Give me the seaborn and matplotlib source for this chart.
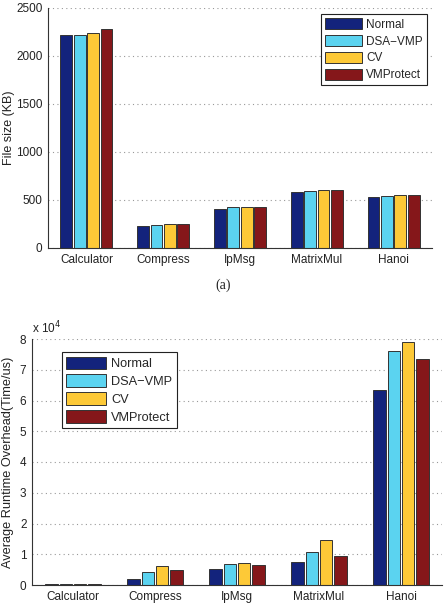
import numpy as np
import pandas as pd
import matplotlib
matplotlib.use("Agg")
import matplotlib.pyplot as plt
import seaborn as sns
from matplotlib.ticker import FuncFormatter

programs = ["Calculator", "Compress", "IpMsg", "MatrixMul", "Hanoi"]
methods = ["Normal", "DSA\u2212VMP", "CV", "VMProtect"]

# file size (KB), one list per method
size_normal = [2215, 230, 405, 582, 535]
size_dsa = [2215, 240, 425, 590, 545]
size_cv = [2235, 248, 432, 600, 555]
size_vmp = [2285, 250, 432, 602, 557]

# average runtime overhead (Time/us)
rt_normal = [300, 1900, 5200, 7600, 63500]
rt_dsa = [300, 4100, 6700, 10600, 76100]
rt_cv = [300, 6100, 7000, 14500, 78900]
rt_vmp = [300, 4800, 6400, 9500, 73600]

colors = ["#13237c", "#5bd3f0", "#fdc937", "#85171a"]


def long_df(series):
    rows = []
    for m, vals in zip(methods, series):
        for p, v in zip(programs, vals):
            rows.append({"program": p, "method": m, "value": v})
    return pd.DataFrame(rows)


sns.set_style("white")
plt.rcParams["font.family"] = ["Liberation Sans", "DejaVu Sans"]
txt = "#222222"

fig = plt.figure(figsize=(4.46, 6.14), dpi=100)
ax1 = fig.add_axes([48 / 446, 1 - 248 / 614, 384 / 446, 240 / 614])
ax2 = fig.add_axes([32 / 446, 1 - 585 / 614, 410 / 446, 246 / 614])


def style_ax(ax):
    for s in ["top", "right"]:
        ax.spines[s].set_visible(False)
    for s in ["left", "bottom"]:
        ax.spines[s].set_color("#333333")
        ax.spines[s].set_linewidth(0.8)
    ax.set_xlim(-0.5, 4.5)
    ax.set_xlabel("")
    ax.tick_params(direction="in", length=3, width=0.6, colors="#333333",
                   labelsize=8.5, labelcolor=txt, pad=4)
    ax.yaxis.grid(True, linestyle=(0, (1, 3)), color="#999999", linewidth=0.8)
    ax.set_axisbelow(True)


def draw(ax, df):
    sns.barplot(data=df, x="program", y="value", hue="method", order=programs,
                hue_order=methods, palette=colors, width=0.7, gap=0.12,
                saturation=1, edgecolor="#333333", linewidth=0.7, ax=ax,
                errorbar=None)


def add_legend(ax, loc, anchor, size):
    leg = ax.legend(loc=loc, bbox_to_anchor=anchor, borderaxespad=0,
                    fontsize=size, handlelength=3.1, handleheight=1.1,
                    labelspacing=0.35, handletextpad=0.4, borderpad=0.35,
                    fancybox=False, framealpha=1, edgecolor="#222222")
    leg.get_frame().set_linewidth(0.8)


draw(ax1, long_df([size_normal, size_dsa, size_cv, size_vmp]))
style_ax(ax1)
ax1.set_ylim(0, 2500)
ax1.set_yticks(range(0, 2501, 500))
ax1.set_ylabel("File size (KB)", fontsize=9, color=txt, va="center")
ax1.yaxis.set_label_coords(-0.102, 0.5)
add_legend(ax1, "upper right", (0.987, 0.975), 8.5)
fig.text(0.5, 1 - 285 / 614, "(a)", ha="center", va="center",
         fontsize=10, family="Liberation Serif", color=txt)

draw(ax2, long_df([rt_normal, rt_dsa, rt_cv, rt_vmp]))
style_ax(ax2)
ax2.set_ylim(0, 80000)
ax2.set_yticks(np.arange(0, 80001, 10000))
ax2.yaxis.set_major_formatter(FuncFormatter(lambda v, _: f"{v / 1e4:g}"))
ax2.set_ylabel("Average Runtime Overhead(Time/us)", fontsize=9.2, color=txt,
               va="center")
ax2.yaxis.set_label_coords(-0.058, 0.5)
ax2.text(0.0, 1.01, "x 10$^4$", transform=ax2.transAxes, fontsize=8.5,
         color=txt, ha="left", va="bottom")
add_legend(ax2, "upper left", (0.073, 0.947), 9.2)

fig.savefig("out.png", dpi=100)
